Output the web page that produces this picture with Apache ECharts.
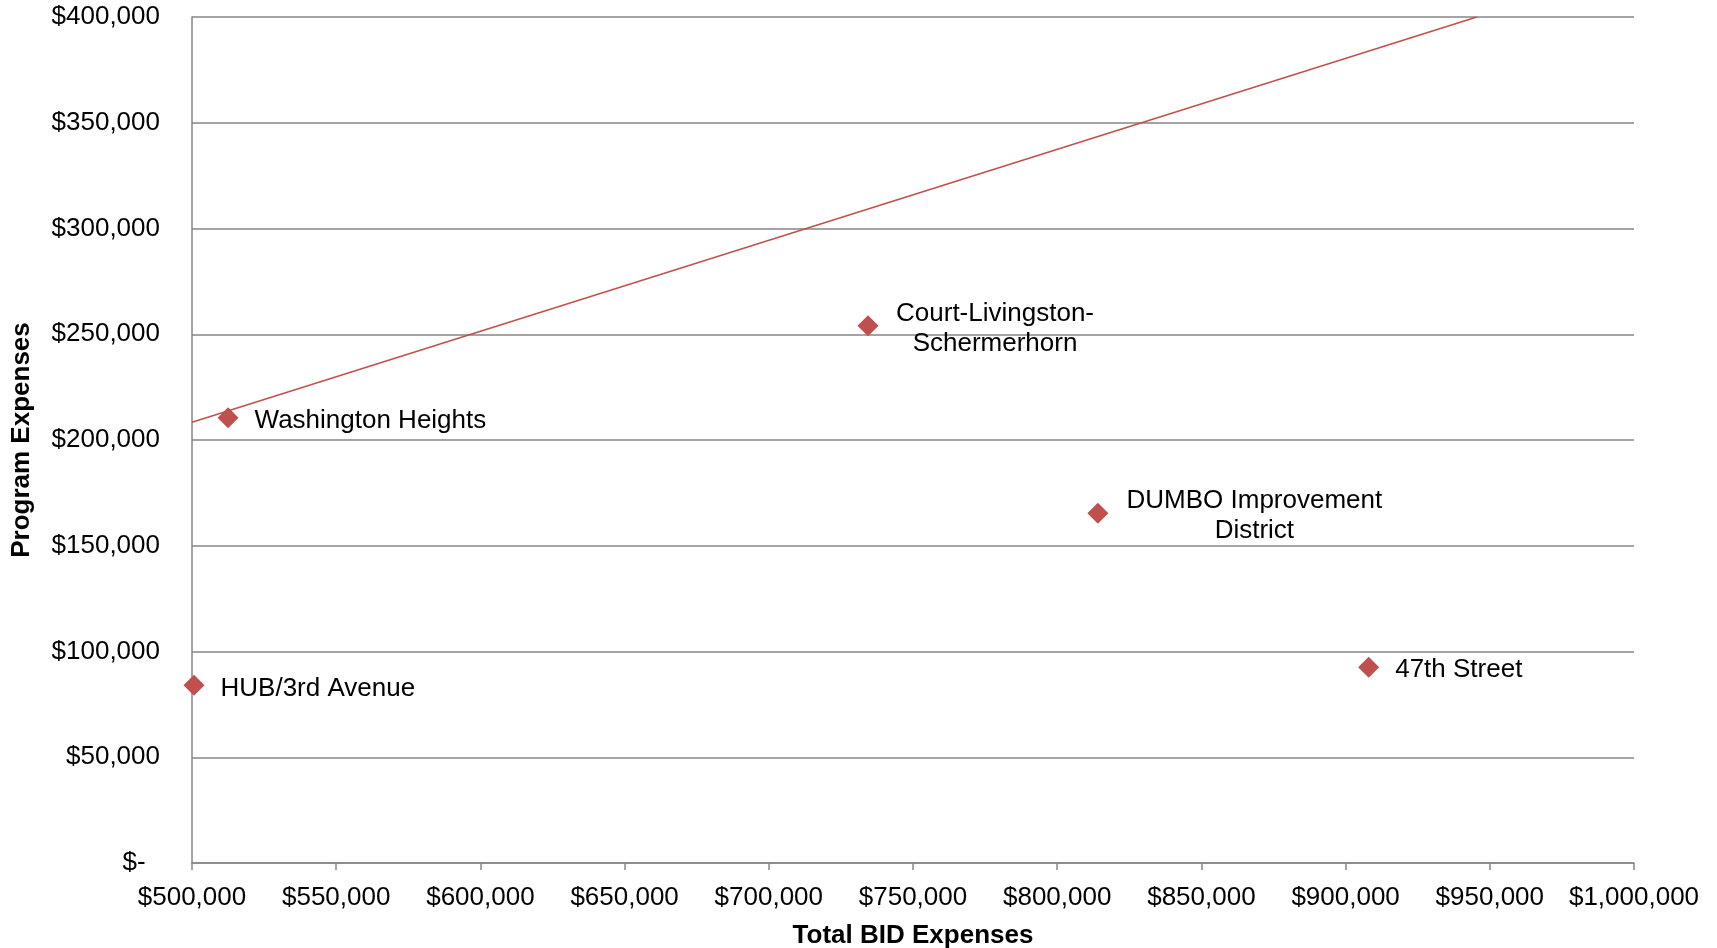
<!DOCTYPE html>
<html>
<head>
<meta charset="utf-8">
<script src="https://cdn.jsdelivr.net/npm/echarts@6/dist/echarts.min.js"></script>
<style>
html,body{margin:0;padding:0;background:#fff;}
#chart{width:1717px;height:948px;}
</style>
</head>
<body>
<div id="chart"></div>
<script>
// Data
const names = ["HUB/3rd Avenue", "Washington Heights", "Court-Livingston-\nSchermerhorn", "DUMBO Improvement\nDistrict", "47th Street"];
const totalExpenses = [500700, 512500, 734400, 814100, 908000];
const programExpenses = [84000, 210500, 254000, 165400, 92600];
// Trend line endpoints
const trendX = [500000, 945500];
const trendY = [208400, 400000];
// Axis ticks
const xMin = 500000, xMax = 1000000, xStep = 50000;
const yMin = 0, yMax = 400000, yStep = 50000;

const FONT = '"Liberation Sans", Arial, sans-serif';
const RED = '#C0504D';
const GRAY = '#868686';

function money(v) {
  if (v === 0) return '$-  ';
  return '$' + v.toLocaleString('en-US');
}

const labelWidths = [0, 0, 201, 260, 0];
const scatterData = names.map((n, i) => {
  const d = { value: [totalExpenses[i], programExpenses[i]], name: n };
  if (n.indexOf('\n') >= 0) {
    d.label = { align: 'center', offset: [labelWidths[i] / 2, 3] };
  }
  return d;
});

const chart = echarts.init(document.getElementById('chart'), null, { renderer: 'canvas' });
chart.setOption({
  backgroundColor: '#fff',
  animation: false,
  textStyle: { fontFamily: FONT },
  grid: { left: 192, top: 17, right: 83, bottom: 85, containLabel: false, outerBoundsMode: 'none' },
  xAxis: {
    type: 'value', min: xMin, max: xMax, interval: xStep,
    name: 'Total BID Expenses', nameLocation: 'middle', nameGap: 60,
    nameTextStyle: { fontFamily: FONT, fontSize: 26, fontWeight: 'bold', color: '#000' },
    axisLine: { show: true, lineStyle: { color: GRAY, width: 1.5 } },
    axisTick: { show: true, length: 7, lineStyle: { color: GRAY, width: 1.5 } },
    axisLabel: { formatter: money, fontFamily: FONT, fontSize: 26, color: '#000', margin: 22 },
    splitLine: { show: false }
  },
  yAxis: {
    type: 'value', min: yMin, max: yMax, interval: yStep,
    name: 'Program Expenses', nameLocation: 'middle', nameGap: 157,
    nameTextStyle: { fontFamily: FONT, fontSize: 26, fontWeight: 'bold', color: '#000' },
    axisLine: { show: true, lineStyle: { color: GRAY, width: 1.5 } },
    axisTick: { show: false },
    axisLabel: { formatter: money, fontFamily: FONT, fontSize: 26, color: '#000', margin: 32, padding: [6, 0, 0, 0] },
    splitLine: { show: true, lineStyle: { color: GRAY, width: 1.5 } }
  },
  series: [
    {
      type: 'line',
      data: trendX.map((x, i) => [x, trendY[i]]),
      symbol: 'none',
      clip: true,
      lineStyle: { color: RED, width: 1.5 },
      silent: true,
      z: 2
    },
    {
      type: 'scatter',
      data: scatterData,
      symbol: 'diamond',
      symbolSize: 21,
      itemStyle: { color: RED, opacity: 1 },
      label: {
        show: true,
        position: 'right',
        distance: 16,
        offset: [0, 3],
        formatter: p => p.name,
        fontFamily: FONT,
        fontSize: 26,
        lineHeight: 30,
        color: '#000'
      },
      z: 3
    }
  ]
});
</script>
</body>
</html>
